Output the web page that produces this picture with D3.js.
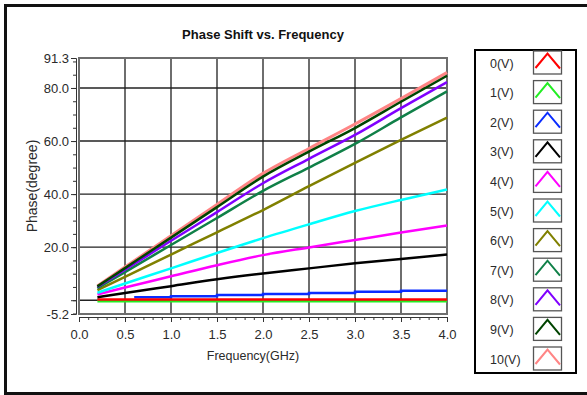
<!DOCTYPE html>
<html>
<head>
<meta charset="utf-8">
<script src="https://cdn.jsdelivr.net/npm/d3@7"></script>
<style>
  html, body { margin: 0; padding: 0; background: #fff; }
  svg { display: block; }
  text { font-family: "Liberation Sans", Arial, sans-serif; fill: #2a2a2a; }
</style>
</head>
<body>
<svg id="chart" width="587" height="395"></svg>
<script>
// ---------- data ----------
const title = "Phase Shift vs. Frequency";
const xTitle = "Frequency(GHz)";
const yTitle = "Phase(degree)";

const freqs = [0.2, 0.5, 1.0, 1.5, 2.0, 2.5, 3.0, 3.5, 4.0];
const phase0V  = [0.3, 0.3, 0.3, 0.3, 0.3, 0.3, 0.3, 0.3, 0.3];
const phase1V  = [-0.4, -0.4, -0.4, -0.4, -0.4, -0.4, -0.4, -0.4, -0.4];
const phase3V  = [1.1, 2.7, 5.3, 7.9, 10.1, 12.0, 13.9, 15.5, 17.2];
const phase4V  = [2.2, 4.8, 9.0, 13.2, 17.0, 19.9, 22.7, 25.5, 28.2];
const phase5V  = [2.8, 6.3, 12.0, 17.8, 23.4, 28.6, 33.6, 37.8, 41.7];
const phase6V  = [3.8, 8.8, 17.2, 25.6, 34.0, 43.0, 51.8, 60.4, 68.8];
const phase7V  = [4.5, 10.6, 20.8, 31.0, 41.2, 50.0, 58.9, 68.9, 78.7];
const phase8V  = [5.0, 11.5, 22.4, 33.2, 44.1, 53.3, 62.3, 72.4, 82.2];
const phase9V  = [5.2, 12.1, 23.6, 35.1, 46.6, 56.0, 64.9, 74.8, 84.6];
const phase10V = [5.4, 12.5, 24.3, 36.1, 47.8, 57.2, 66.4, 76.0, 85.8];
// 2V trace is stepped
const freqs2V  = [0.6, 1.0, 1.5, 2.0, 2.5, 3.0, 3.5, 4.0];
const phase2V  = [1.1, 1.5, 2.0, 2.3, 2.7, 3.2, 3.6, 3.6];

const seriesNames = ["0(V)", "1(V)", "2(V)", "3(V)", "4(V)", "5(V)", "6(V)", "7(V)", "8(V)", "9(V)", "10(V)"];
const seriesColors = ["#ff0000", "#22ee22", "#0a2cff", "#000000", "#ff00ff", "#00ffff",
                      "#808000", "#108048", "#8000ff", "#004400", "#ff8585"];

const xTickValues = [0, 0.5, 1.0, 1.5, 2.0, 2.5, 3.0, 3.5, 4.0];
const yTickValues = [91.3, 80, 60, 40, 20, 0, -5.2];
const yTickLabels = ["91.3", "80.0", "60.0", "40.0", "20.0", "", "-5.2"];
const yGridValues = [80, 60, 40, 20, 0];

// ---------- layout ----------
const svg = d3.select("#chart");
const plot = { left: 79, right: 447, top: 58, bottom: 314 };

const x = d3.scaleLinear().domain([0, 4.0]).range([plot.left, plot.right]);
const y = d3.scaleLinear().domain([-5.2, 91.3]).range([plot.bottom, plot.top]);

// outer frame
svg.append("rect")
  .attr("x", 5.5).attr("y", 5.5).attr("width", 590).attr("height", 388)
  .attr("fill", "#fff").attr("stroke", "#111").attr("stroke-width", 3);

// title
svg.append("text")
  .attr("x", 263).attr("y", 39)
  .attr("text-anchor", "middle")
  .style("font-size", "13px").style("font-weight", "bold").style("fill", "#111")
  .text(title);

// plot background
svg.append("rect")
  .attr("x", plot.left).attr("y", plot.top)
  .attr("width", plot.right - plot.left).attr("height", plot.bottom - plot.top)
  .attr("fill", "#fff");

// grid
const grid = svg.append("g");
grid.selectAll("line.v").data(xTickValues.slice(1, -1)).enter().append("line")
  .attr("x1", d => x(d)).attr("x2", d => x(d))
  .attr("y1", plot.top).attr("y2", plot.bottom)
  .attr("stroke", "#6e6e6e").attr("stroke-width", 2);
grid.selectAll("line.h").data(yGridValues).enter().append("line")
  .attr("x1", plot.left).attr("x2", plot.right)
  .attr("y1", d => y(d)).attr("y2", d => y(d))
  .attr("stroke", "#222").attr("stroke-width", 1.4);

// plot frame
svg.append("rect")
  .attr("x", plot.left).attr("y", plot.top)
  .attr("width", plot.right - plot.left).attr("height", plot.bottom - plot.top)
  .attr("fill", "none").attr("stroke", "#6e6e6e").attr("stroke-width", 2);

// series
const lineGen = d3.line()
  .x(d => x(d[0])).y(d => y(d[1]))
  .curve(d3.curveMonotoneX);
const stepGen = d3.line()
  .x(d => x(d[0])).y(d => y(d[1]))
  .curve(d3.curveStepAfter);

const allSeries = [
  { f: freqs, v: phase0V, gen: lineGen },
  { f: freqs, v: phase1V, gen: lineGen },
  { f: freqs2V, v: phase2V, gen: stepGen },
  { f: freqs, v: phase3V, gen: lineGen },
  { f: freqs, v: phase4V, gen: lineGen },
  { f: freqs, v: phase5V, gen: lineGen },
  { f: freqs, v: phase6V, gen: lineGen },
  { f: freqs, v: phase7V, gen: lineGen },
  { f: freqs, v: phase8V, gen: lineGen },
  { f: freqs, v: phase9V, gen: lineGen },
  { f: freqs, v: phase10V, gen: lineGen }
];
const drawOrder = [1, 2, 0, 3, 4, 5, 6, 7, 8, 10, 9];
const lines = svg.append("g");
drawOrder.forEach(i => {
  const s = allSeries[i];
  lines.append("path")
    .datum(s.f.map((f, k) => [f, s.v[k]]))
    .attr("d", s.gen)
    .attr("fill", "none")
    .attr("stroke", seriesColors[i])
    .attr("stroke-width", i === 10 ? 3 : 2.5);
});

// x axis
const xAxisY = plot.bottom + 3;
const xAxis = svg.append("g").attr("transform", `translate(0,${xAxisY})`);
xAxis.call(d3.axisBottom(x).tickValues(d3.range(0, 41).map(i => i / 10)).tickSize(3).tickFormat(""))
  .call(g => g.select(".domain").remove())
  .call(g => g.selectAll(".tick line").attr("stroke", "#333").attr("stroke-width", 1));
xAxis.append("g")
  .call(d3.axisBottom(x).tickValues(xTickValues).tickSize(5).tickFormat(d3.format(".1f")))
  .call(g => g.select(".domain").attr("stroke", "#333").attr("stroke-width", 1))
  .call(g => g.selectAll(".tick line").attr("stroke", "#333"))
  .call(g => g.selectAll(".tick text").attr("dy", "1.05em")
    .style("font-size", "13px").style("font-family", "Liberation Sans, Arial, sans-serif").style("fill", "#2a2a2a"));

// y axis
const yAxisX = plot.left - 3;
const yAxisG = svg.append("g").attr("transform", `translate(${yAxisX},0)`);
yAxisG.call(d3.axisLeft(y).tickValues(d3.range(-5, 95, 5)).tickSize(3).tickFormat(""))
  .call(g => g.select(".domain").remove())
  .call(g => g.selectAll(".tick line").attr("stroke", "#333"));
yAxisG.append("g")
  .call(d3.axisLeft(y).tickValues(yTickValues).tickSize(5).tickFormat((d, i) => yTickLabels[i]))
  .call(g => g.select(".domain").attr("stroke", "#333").attr("stroke-width", 1))
  .call(g => g.selectAll(".tick line").attr("stroke", "#333"))
  .call(g => g.selectAll(".tick text").attr("x", -7)
    .style("font-size", "13px").style("font-family", "Liberation Sans, Arial, sans-serif").style("fill", "#2a2a2a"));

// axis titles
svg.append("text")
  .attr("x", 253).attr("y", 360)
  .attr("text-anchor", "middle")
  .style("font-size", "12.5px")
  .text(xTitle);
svg.append("text")
  .attr("transform", "translate(37,186) rotate(-90)")
  .attr("text-anchor", "middle")
  .style("font-size", "14px")
  .text(yTitle);

// legend
const legend = svg.append("g");
legend.append("rect")
  .attr("x", 475).attr("y", 50).attr("width", 101).attr("height", 323)
  .attr("fill", "#fff").attr("stroke", "#000").attr("stroke-width", 2);
const rowY = d3.scaleLinear().domain([0, 10]).range([62.5, 358.5]);
const items = legend.selectAll("g.item").data(seriesNames).enter().append("g")
  .attr("transform", (d, i) => `translate(0,${rowY(i)})`);
items.append("text")
  .attr("x", 490).attr("y", 5)
  .style("font-size", "12.5px")
  .text(d => d);
items.append("rect")
  .attr("x", 533.5).attr("y", -11.5).attr("width", 28).attr("height", 23)
  .attr("fill", "#fff").attr("stroke", "#555").attr("stroke-width", 1.3);
items.append("path")
  .attr("d", "M535.5,5.5 L547.5,-9 L560,6")
  .attr("fill", "none")
  .attr("stroke", (d, i) => seriesColors[i])
  .attr("stroke-width", 2);
</script>
</body>
</html>
